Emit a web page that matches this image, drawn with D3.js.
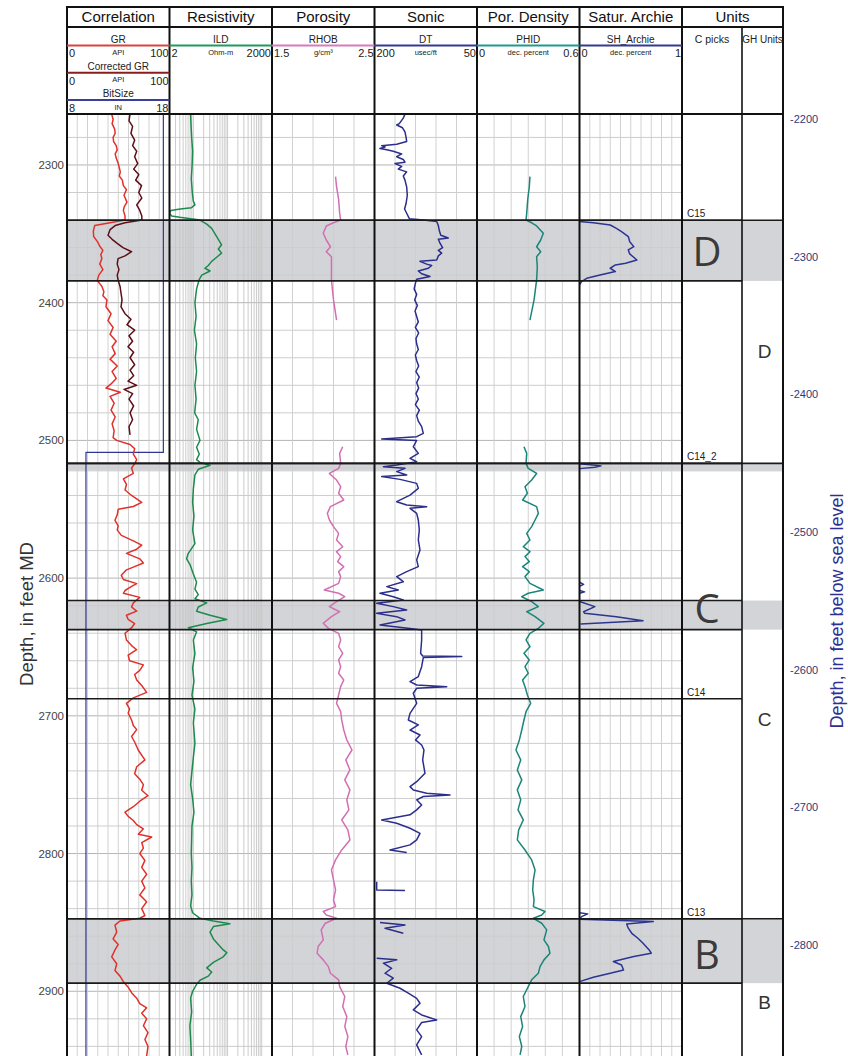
<!DOCTYPE html>
<html>
<head>
<meta charset="utf-8">
<script src="https://cdn.jsdelivr.net/npm/d3@7/dist/d3.min.js"></script>
<style>
  body { margin: 0; background: #fff; }
  svg { display: block; font-family: "Liberation Sans", Arial, sans-serif; }
  .narrow { font-family: "Liberation Sans Narrow", "Arial Narrow", "Liberation Sans", Arial, sans-serif; }
</style>
</head>
<body>
<svg id="chart" width="848" height="1056"></svg>
<script>
// ---- data (depth in feet MD, value in curve units) ----
var trackNames = ["Correlation", "Resistivity", "Porosity", "Sonic", "Por. Density", "Satur. Archie", "Units"];

var grData = [[2263,43.6],[2267,45],[2270,44],[2274,46.5],[2277,47],[2280,45],[2283,45.5],[2286,48],[2289,49],[2292,47],[2295,48],[2299,50],[2302,51],[2305,52],[2308,51],[2311,54],[2315,55],[2318,58],[2322,55.6],[2327,58.5],[2330,56],[2333,55],[2337,56.6],[2340,56.6],[2342,42],[2344,27],[2348,25.7],[2352,26],[2356,30],[2359,32],[2362,35],[2365,33],[2368,34],[2372,32],[2376,35],[2380,31],[2384,29.5],[2388,34],[2392,36],[2395,35],[2398,39],[2403,38],[2408,43],[2413,40],[2418,45],[2423,42],[2428,48],[2432,44],[2437,47],[2441,42],[2446,49],[2450,44],[2455,48],[2459,43],[2462,38],[2465,52],[2468,42],[2473,46],[2478,43],[2483,47],[2488,44],[2493,46],[2498,45],[2500,48.5],[2503,61.5],[2506,66],[2510,64.7],[2514,68],[2517,66],[2520,63],[2524,64.7],[2528,55],[2532,58],[2536,56.6],[2540,63],[2545,72.9],[2548,64.7],[2550,50],[2554,49],[2558,46.8],[2562,50],[2565,49],[2569,53],[2573,64.7],[2576,72.9],[2579,68],[2582,58],[2586,71],[2589,74.5],[2592,64.7],[2594,58],[2598,53],[2601,55],[2604,68],[2606,63],[2609,56.6],[2611,55],[2614,71],[2618,64.7],[2621,63],[2624,68],[2627,58],[2630,59.7],[2633,66],[2636,63],[2640,56.6],[2645,58],[2649,63],[2652,68],[2656,59.7],[2660,61],[2663,74.5],[2667,71],[2670,66],[2674,68],[2678,72.9],[2683,77.7],[2687,64.7],[2691,58],[2695,61],[2698,59.7],[2703,63],[2707,64.7],[2710,68],[2715,63],[2719,66],[2725,69.6],[2732,76],[2737,68],[2742,66],[2746,71],[2750,74.5],[2754,72.9],[2758,79],[2762,71],[2766,64.7],[2770,56.6],[2773,59.7],[2776,64.7],[2779,68],[2782,74.5],[2786,69.6],[2788,82.6],[2792,72.9],[2796,74.5],[2800,71],[2805,76],[2810,72.9],[2815,77.7],[2820,72.9],[2825,76],[2830,71],[2835,77.7],[2840,72.9],[2845,76],[2847,71],[2849,51.7],[2852,46.8],[2857,48.5],[2862,45],[2866,50],[2870,46.8],[2875,43.6],[2880,48.5],[2885,46.8],[2889,51.7],[2893,55],[2897,59.7],[2901,63],[2905,68],[2909,71],[2912,77.7],[2916,72.9],[2920,77.7],[2925,74.5],[2930,79],[2935,76],[2940,79],[2947,77.7]];

var corrGrData = [[2263,61.5],[2268,60.5],[2272,64],[2277,62.4],[2282,66],[2286,64],[2290,68],[2294,66],[2299,69],[2303,65],[2307,70],[2311,67],[2315,72.7],[2320,70],[2324,73],[2329,68],[2333,71],[2337,73],[2340,73],[2342,56.6],[2344,47],[2347,42],[2351,40],[2354,44],[2357,49],[2360,54.6],[2363,63],[2366,56.6],[2368,49.8],[2372,49],[2376,50.7],[2380,49],[2384,50],[2388,51.7],[2393,52.7],[2398,53.7],[2403,52.7],[2408,56.6],[2412,62.4],[2416,58.5],[2420,66],[2424,60.5],[2428,64],[2432,59.5],[2436,65],[2440,61.5],[2445,66],[2449,61.5],[2453,65],[2457,59.5],[2460,68],[2463,55.6],[2466,64],[2470,60.5],[2475,65],[2480,61.5],[2485,64],[2490,60.5],[2496,61.5]];

var bitSizeData = [[2263,17.4],[2508.7,17.4],[2508.7,9.85],[2947,9.85]];

var ildData = [[2263,8.3],[2270,8.5],[2280,8.9],[2290,9.5],[2300,9.2],[2310,8.7],[2320,9.3],[2326,9.9],[2329,11.1],[2331,8.8],[2332,4.1],[2333,2.2],[2335,2.0],[2337,2.3],[2338,4],[2340,15.6],[2343,24.6],[2346,34.4],[2350,43],[2354,53.7],[2358,67],[2361,53.7],[2364,67],[2367,48],[2370,34.4],[2373,27.3],[2375,21.8],[2377,30.7],[2380,17.6],[2383,14.9],[2390,12.4],[2400,11.1],[2410,12],[2420,10.7],[2430,12.4],[2440,11.4],[2450,12.4],[2460,11.1],[2470,12],[2480,10.9],[2485,13.9],[2492,12.4],[2500,15.6],[2505,12.4],[2510,14.9],[2514,12.4],[2516,15.6],[2518,30.7],[2521,13.9],[2525,11.1],[2535,10],[2545,9.5],[2555,10.4],[2565,9.5],[2575,11.1],[2582,7.1],[2586,6.35],[2590,7.9],[2597,10],[2603,12.4],[2608,11.1],[2612,13.9],[2615,11.1],[2618,24.6],[2621,13.9],[2624,12.4],[2627,30.7],[2630,94.7],[2633,24.6],[2636,7.1],[2639,12.4],[2645,10],[2655,11.1],[2665,9.5],[2675,10.4],[2685,9.1],[2695,11.1],[2705,10],[2720,11.1],[2730,10],[2740,9.1],[2750,8.3],[2760,9.5],[2770,10.4],[2780,9.1],[2790,8.9],[2800,8.7],[2810,9.1],[2820,8.7],[2830,9.1],[2838,8.3],[2843,9.5],[2847,15.6],[2849,38.5],[2851,117],[2853,38.5],[2857,30.7],[2862,38.5],[2866,53.7],[2870,75],[2872,94.7],[2875,75],[2879,38.5],[2883,24.6],[2886,34.4],[2889,27.3],[2892,15.6],[2895,12.4],[2900,9.5],[2905,8.3],[2915,8.9],[2925,7.9],[2935,8.3],[2947,8.7]];

var rhobData = [[2308.5,2.12],[2316,2.13],[2325,2.15],[2335,2.16],[2340,2.17],[2342,2.10],[2344.3,2.03],[2349.6,2.0],[2354.5,2.03],[2359.4,2.07],[2363,2.03],[2366.6,2.08],[2374,2.08],[2383.5,2.08],[2398,2.1],[2412.6,2.13],[2460,NaN],[2504.6,2.19],[2509.4,2.16],[2516.7,2.17],[2520.3,2.15],[2524,2.06],[2528.8,2.13],[2533.6,2.17],[2538.4,2.15],[2543.3,2.2],[2548.1,2.07],[2553,2.04],[2557.8,2.06],[2562.6,2.1],[2567.5,2.15],[2572.3,2.13],[2577.2,2.19],[2580.8,2.13],[2584.4,2.17],[2588,2.14],[2591.7,2.2],[2595.3,2.15],[2598.9,2.17],[2603.8,2.15],[2608.6,2.01],[2611,2.15],[2613.5,2.21],[2617.1,2.13],[2620.7,2.06],[2624.4,2.16],[2628,2.08],[2632.8,2.0],[2636.5,2.05],[2640.1,2.15],[2644.9,2.17],[2649.8,2.15],[2654.6,2.19],[2659.4,2.15],[2664.3,2.17],[2669.1,2.15],[2674,2.2],[2678.8,2.17],[2684.9,2.15],[2690.9,2.13],[2697,2.17],[2703,2.18],[2710.3,2.2],[2717.5,2.23],[2724.8,2.28],[2732,2.22],[2739.3,2.26],[2746.5,2.21],[2753.8,2.26],[2761,2.23],[2768.3,2.25],[2775.6,2.18],[2782.8,2.24],[2790.1,2.26],[2797.4,2.18],[2804.6,2.12],[2811.9,2.08],[2819.1,2.1],[2826.4,2.12],[2833.7,2.1],[2838.5,2.12],[2842.1,2.0],[2844.6,2.03],[2847,2.13],[2850.6,2.02],[2855.4,1.98],[2862.7,2.0],[2867.5,1.95],[2872.4,1.94],[2877.2,2.0],[2882.1,2.05],[2886.9,2.07],[2891.7,2.15],[2896.6,2.16],[2903.8,2.21],[2911.1,2.19],[2918.4,2.23],[2925.6,2.21],[2932.9,2.24],[2940.1,2.22],[2946.2,2.24]];

var dtData = [[2263,155.4],[2266,157.9],[2270,163.7],[2271,167.5],[2273,159],[2276,155.4],[2280,153.8],[2283,152.9],[2285,167.5],[2286,189.5],[2287,184.6],[2288,192],[2289,182],[2290,172.5],[2292,160.2],[2294,167.5],[2296,157.9],[2298,155.4],[2299,170],[2301,160.2],[2303,165.2],[2305,152.9],[2308,157.9],[2311,155.4],[2316,152.9],[2322,152],[2328,153.8],[2332,156],[2336,152],[2339,149],[2340,128.6],[2341,109],[2344,106.6],[2348,105],[2351,103],[2353,92],[2354,106.6],[2357,104],[2360,100.3],[2362,106.6],[2364,101.7],[2366,106.6],[2369,109],[2370,133.4],[2372,123.6],[2373,116.3],[2375,121.2],[2377,135.9],[2379,131],[2381,118.8],[2383,138.3],[2386,140.2],[2390,142],[2394,138.3],[2398,141.2],[2402,137.3],[2406,140.7],[2410,138.3],[2414,135.9],[2418,140.2],[2422,135.4],[2426,139.3],[2430,138.3],[2434,135.9],[2438,140.2],[2442,138.3],[2446,135.4],[2450,139.3],[2454,134.4],[2458,138.3],[2462,135.4],[2466,139.3],[2470,135.9],[2474,140.2],[2478,134.4],[2482,138.3],[2486,135.9],[2490,131],[2494.9,128.6],[2497.3,138.3],[2499,189.5],[2500,138.3],[2504.6,143.2],[2509.4,135.9],[2513,148],[2515.5,138.3],[2517.9,167.5],[2519.1,187],[2520.3,155.4],[2522.7,167.5],[2525.1,152.9],[2526.3,189.5],[2528.3,162.7],[2531.2,138.3],[2534.8,135.9],[2539.7,148],[2544.5,167.5],[2546.9,152.9],[2548.1,123.6],[2549.3,148],[2553,138.3],[2557.8,135.9],[2565,134.4],[2572.3,135.9],[2579.6,133.4],[2586.8,138.3],[2591.7,135.9],[2595.3,152.9],[2598.9,167.5],[2602.6,157.9],[2606.2,182],[2608.6,165.2],[2611,192],[2613.5,172.5],[2615.9,157.9],[2618.3,196.8],[2620.7,172.5],[2623.1,152.9],[2625.6,196.8],[2628,167.5],[2630.4,155.4],[2634,192],[2636.5,148],[2637.7,131],[2644.9,131],[2654.6,132.5],[2656.5,129.5],[2657,72.4],[2657.7,128.6],[2664.3,131],[2671.5,135.9],[2675.2,148],[2677.6,138.3],[2678.8,94.3],[2680,138.3],[2683.6,143.2],[2690.9,138.3],[2698.2,148],[2703,150.5],[2706.6,135.9],[2710.3,148],[2713.9,133.4],[2717.5,140],[2721.2,131],[2724.8,127.6],[2732,129.5],[2741.7,126.1],[2747.8,138.3],[2751.4,148],[2753.8,143.2],[2756.2,123.6],[2757.4,89.5],[2758.6,128.6],[2761,138.3],[2764.7,131],[2768.3,138.3],[2771.9,148],[2775.6,189.5],[2778,167.5],[2781.6,148],[2785.3,133.4],[2790.1,138.3],[2793.7,148],[2797.4,177.3],[2799.3,152.9],[2805,NaN],[2820.4,196.8],[2826.4,196.8],[2826.9,155.4],[2835,NaN],[2850.1,192],[2851.8,155.4],[2854.2,184.6],[2857.9,157.9],[2865,NaN],[2876,196.8],[2877.2,167.5],[2879.6,187],[2883.3,174.9],[2886.9,184.6],[2890.5,172.5],[2894.2,182],[2897.8,162.7],[2901.4,150.5],[2905.1,138.3],[2908.7,133.4],[2913.5,143.2],[2917.2,131],[2920.8,109],[2922.7,131],[2928,138.3],[2932.9,131],[2938.9,138.3],[2946.2,131]];

var phidData = [[2308.5,0.31],[2316,0.306],[2325,0.297],[2335,0.291],[2340,0.287],[2342,0.32],[2344.3,0.349],[2349.6,0.388],[2354.5,0.373],[2359.4,0.349],[2363,0.373],[2366.6,0.349],[2374,0.353],[2383.5,0.349],[2398,0.334],[2412.6,0.31],[2460,NaN],[2504.6,0.275],[2509.4,0.291],[2516.7,0.287],[2520.3,0.30],[2524,0.349],[2528.8,0.32],[2533.6,0.281],[2538.4,0.295],[2543.3,0.267],[2548.1,0.349],[2553,0.359],[2557.8,0.34],[2562.6,0.32],[2567.5,0.291],[2572.3,0.31],[2577.2,0.271],[2580.8,0.31],[2584.4,0.281],[2588,0.306],[2591.7,0.267],[2595.3,0.306],[2598.9,0.281],[2603.8,0.31],[2608.6,0.388],[2611,0.30],[2613.5,0.262],[2617.1,0.32],[2620.7,0.359],[2624.4,0.291],[2628,0.34],[2632.8,0.392],[2636.5,0.359],[2640.1,0.31],[2644.9,0.287],[2649.8,0.31],[2654.6,0.275],[2659.4,0.306],[2664.3,0.281],[2669.1,0.30],[2674,0.267],[2678.8,0.281],[2684.9,0.295],[2690.9,0.314],[2697,0.287],[2703,0.275],[2710.3,0.262],[2717.5,0.248],[2724.8,0.228],[2732,0.256],[2739.3,0.236],[2746.5,0.262],[2753.8,0.236],[2761,0.256],[2768.3,0.24],[2775.6,0.271],[2782.8,0.244],[2790.1,0.236],[2797.4,0.281],[2804.6,0.32],[2811.9,0.34],[2819.1,0.33],[2826.4,0.326],[2833.7,0.334],[2838.5,0.33],[2842.1,0.398],[2844.6,0.379],[2847,0.33],[2850.6,0.379],[2855.4,0.408],[2862.7,0.392],[2867.5,0.418],[2872.4,0.427],[2877.2,0.392],[2882.1,0.369],[2886.9,0.359],[2891.7,0.32],[2896.6,0.30],[2903.8,0.271],[2911.1,0.281],[2918.4,0.256],[2925.6,0.267],[2932.9,0.248],[2940.1,0.262],[2946.2,0.252]];

var shData = [[2341.1,0],[2341.9,0.135],[2343.6,0.3],[2346,0.36],[2348.4,0.41],[2352,0.476],[2355.7,0.49],[2359.3,0.53],[2361.7,0.476],[2364.6,0.49],[2369,0.56],[2371.4,0.45],[2372.6,0.35],[2375,0.3],[2377.4,0.35],[2379.9,0.2],[2382.3,0.07],[2384.7,0.02],[2387.1,0],[2400,NaN],[2517,0],[2518.5,0.21],[2519.5,0.15],[2520.5,0],[2560,NaN],[2603,0],[2604.5,0.04],[2606,0],[2608,NaN],[2609,0],[2610,0.05],[2611,0],[2614,NaN],[2617,0],[2620.7,0.15],[2624.4,0.04],[2625.6,0.05],[2628,0.36],[2630.9,0.62],[2633.3,0.01],[2640,NaN],[2842.9,0],[2843.8,0.08],[2845.8,0.02],[2847.7,0],[2849.4,0.72],[2851.1,0.46],[2854.2,0.476],[2857.9,0.51],[2861.5,0.57],[2865.1,0.62],[2870,0.68],[2872.4,0.70],[2874.8,0.53],[2878.4,0.33],[2880.9,0.41],[2884.5,0.43],[2886.9,0.3],[2889.8,0.135],[2893,0]];

// zones, picks and units
var zoneNames = ["D", "", "C", "B"];
var zoneTop = [2340.2, 2516.7, 2616.3, 2847.3];
var zoneBase = [2384.2, 2522.5, 2637.4, 2894.1];
var zoneLabelDepth = [2363, 2519, 2622.2, 2873.4];
var pickNames = ["C15", "C14_2", "C14", "C13"];
var pickDepths = [2340.2, 2516.7, 2687.6, 2847.3];
var ghNames = ["D", "C", "B"];
var ghTops = [2340.2, 2516.7, 2847.3];
var ghLabelDepth = [2434.9, 2702.3, 2907.6];

var mdTicks = [2300, 2400, 2500, 2600, 2700, 2800, 2900];
var ssTicks = [-2200, -2300, -2400, -2500, -2600, -2700, -2800];
var kbElev = 66.6;

// ---- layout ----
var svg = d3.select("#chart");
var topY = 7, titleY = 27, headY = 114, bottomY = 1056;
var left = 67, tw = 102.5, unitsRight = 783, ghX = 742;
function tx(i) { return left + i * tw; }

var y = d3.scaleLinear().domain([2263, 2947]).range([headY, bottomY]);
var ySS = d3.scaleLinear().domain([kbElev - 2263, kbElev - 2947]).range([headY, bottomY]);

var xGR = d3.scaleLinear().domain([0, 100]).range([tx(0), tx(1)]);
var xBit = d3.scaleLinear().domain([8, 18]).range([tx(0), tx(1)]);
var xILD = d3.scaleLog().domain([2, 2000]).range([tx(1), tx(2)]);
var xRHOB = d3.scaleLinear().domain([1.5, 2.5]).range([tx(2), tx(3)]);
var xDT = d3.scaleLinear().domain([200, 50]).range([tx(3), tx(4)]);
var xPHID = d3.scaleLinear().domain([0, 0.6]).range([tx(4), tx(5)]);
var xSH = d3.scaleLinear().domain([0, 1]).range([tx(5), tx(6)]);

// zone shading
svg.append("g").selectAll("rect").data(zoneTop).enter().append("rect")
  .attr("x", left).attr("width", unitsRight - left)
  .attr("y", function(d) { return y(d); })
  .attr("height", function(d, i) { return y(zoneBase[i]) - y(d); })
  .attr("fill", "#d3d4d7");

// grid
var grid = svg.append("g").attr("class", "grid");
var hLines = d3.range(2280, 2947, 20);
grid.selectAll("line.h").data(hLines).enter().append("line")
  .attr("x1", left).attr("x2", tx(6))
  .attr("y1", function(d) { return y(d); }).attr("y2", function(d) { return y(d); })
  .attr("stroke", function(d) { return d % 100 === 0 ? "#b4b4b4" : "#cdcdcd"; })
  .attr("stroke-width", 1);

function gridV(scale, values, color) {
  grid.append("g").selectAll("line").data(values).enter().append("line")
    .attr("x1", function(d) { return scale(d); }).attr("x2", function(d) { return scale(d); })
    .attr("y1", headY).attr("y2", bottomY)
    .attr("stroke", color || "#cdcdcd").attr("stroke-width", 0.9);
}
gridV(xGR, d3.range(10, 100, 10));
var logVals = [];
[1, 10, 100, 1000].forEach(function(dec) {
  for (var k = 1; k <= 9; k++) { var v = k * dec; if (v > 2 && v < 2000) logVals.push(v); }
});
gridV(xILD, logVals, "#c6c6c6");
gridV(xRHOB, [1.7, 1.9, 2.1, 2.3]);
gridV(xDT, [170, 140, 110, 80]);
gridV(xPHID, [0.1, 0.2, 0.3, 0.4, 0.5]);
gridV(xSH, d3.range(1, 10).map(function(d) { return d / 10; }));

// clip each track so curves stay inside
var defs = svg.append("defs");
for (var i = 0; i < 6; i++) {
  defs.append("clipPath").attr("id", "clip" + i).append("rect")
    .attr("x", tx(i)).attr("y", headY).attr("width", tw).attr("height", bottomY - headY);
}

function drawCurve(data, xs, color, clip, width) {
  var line = d3.line()
    .defined(function(d) { return !isNaN(d[1]); })
    .x(function(d) { return xs(d[1]); })
    .y(function(d) { return y(d[0]); });
  svg.append("path").datum(data)
    .attr("d", line)
    .attr("fill", "none")
    .attr("stroke", color)
    .attr("stroke-width", width || 1.5)
    .attr("stroke-linejoin", "round")
    .attr("clip-path", "url(#clip" + clip + ")");
}

drawCurve(bitSizeData, xBit, "#2e3592", 0, 1.2);
drawCurve(corrGrData, xGR, "#5c0f16", 0);
drawCurve(grData, xGR, "#e0312b", 0);
drawCurve(ildData, xILD, "#1d8a4e", 1);
drawCurve(rhobData, xRHOB, "#d26fb3", 2);
drawCurve(dtData, xDT, "#2b2e8c", 3);
drawCurve(phidData, xPHID, "#1a8579", 4);
drawCurve(shData, xSH, "#2c3592", 5);

// zone and pick lines
var lines = svg.append("g").attr("stroke", "#1a1a1a").attr("stroke-width", 1.6);
zoneTop.forEach(function(d, i) {
  lines.append("line").attr("x1", left).attr("x2", ghX).attr("y1", y(d)).attr("y2", y(d));
  if (zoneBase[i] - d > 10) {
    lines.append("line").attr("x1", left).attr("x2", ghX).attr("y1", y(zoneBase[i])).attr("y2", y(zoneBase[i]));
  }
});
pickDepths.forEach(function(d) {
  lines.append("line").attr("x1", left).attr("x2", ghX).attr("y1", y(d)).attr("y2", y(d));
});
ghTops.forEach(function(d) {
  lines.append("line").attr("x1", ghX).attr("x2", unitsRight).attr("y1", y(d)).attr("y2", y(d));
});

// frame
var frame = svg.append("g").attr("stroke", "#111").attr("stroke-width", 2);
for (var j = 0; j <= 6; j++) {
  frame.append("line").attr("x1", tx(j)).attr("x2", tx(j)).attr("y1", topY).attr("y2", bottomY);
}
frame.append("line").attr("x1", unitsRight).attr("x2", unitsRight).attr("y1", topY).attr("y2", bottomY);
frame.append("line").attr("x1", ghX).attr("x2", ghX).attr("y1", titleY).attr("y2", bottomY).attr("stroke-width", 1.6);
[topY, titleY, headY].forEach(function(h) {
  frame.append("line").attr("x1", left - 1).attr("x2", unitsRight + 1).attr("y1", h).attr("y2", h);
});

// header titles
svg.append("g").selectAll("text").data(trackNames).enter().append("text")
  .attr("class", "narrow")
  .attr("x", function(d, i) { return i < 6 ? tx(i) + tw / 2 : (tx(6) + unitsRight) / 2; })
  .attr("y", 17).attr("dy", "0.35em")
  .attr("text-anchor", "middle").attr("font-size", 15).attr("fill", "#111")
  .text(function(d) { return d; });

// curve legends in the header
function legend(track, row, name, color, lo, unit, hi) {
  var g = svg.append("g").attr("class", "narrow").attr("fill", "#222");
  var y0 = 39 + row * 27.3, x0 = tx(track), x1 = tx(track + 1);
  g.append("text").attr("x", (x0 + x1) / 2).attr("y", y0).attr("dy", "0.35em")
    .attr("text-anchor", "middle").attr("font-size", 10).text(name);
  g.append("line").attr("x1", x0).attr("x2", x1).attr("y1", y0 + 6.5).attr("y2", y0 + 6.5)
    .attr("stroke", color).attr("stroke-width", 2);
  g.append("text").attr("x", x0 + 2).attr("y", y0 + 14.5).attr("dy", "0.35em")
    .attr("font-size", 11).text(lo);
  g.append("text").attr("x", (x0 + x1) / 2).attr("y", y0 + 13.5).attr("dy", "0.35em")
    .attr("text-anchor", "middle").attr("font-size", 7.5).text(unit);
  g.append("text").attr("x", x1 - 1).attr("y", y0 + 14.5).attr("dy", "0.35em")
    .attr("text-anchor", "end").attr("font-size", 11).text(hi);
}
legend(0, 0, "GR", "#d8443c", "0", "API", "100");
legend(0, 1, "Corrected GR", "#8a1d20", "0", "API", "100");
legend(0, 2, "BitSize", "#3a3f98", "8", "IN", "18");
legend(1, 0, "ILD", "#1f9a5c", "2", "Ohm-m", "2000");
legend(2, 0, "RHOB", "#d77bbb", "1.5", "g/cm\u00b3", "2.5");
legend(3, 0, "DT", "#343a94", "200", "usec/ft", "50");
legend(4, 0, "PHID", "#1e9a8c", "0", "dec. percent", "0.6");
legend(5, 0, "SH_Archie", "#343a94", "0", "dec. percent", "1");

svg.append("text").attr("class", "narrow").attr("x", 712).attr("y", 39).attr("dy", "0.35em")
  .attr("text-anchor", "middle").attr("font-size", 10.5).attr("fill", "#222").text("C picks");
svg.append("text").attr("class", "narrow").attr("x", 762.5).attr("y", 39).attr("dy", "0.35em")
  .attr("text-anchor", "middle").attr("font-size", 10).attr("fill", "#222").text("GH Units");

// picks labels
svg.append("g").selectAll("text").data(pickNames).enter().append("text")
  .attr("x", 687).attr("y", function(d, i) { return y(pickDepths[i]) - 3; })
  .attr("font-size", 10).attr("fill", "#222")
  .text(function(d) { return d; });

// big zone letters
svg.append("g").selectAll("text").data(zoneNames).enter().append("text")
  .attr("x", 707).attr("y", function(d, i) { return y(zoneLabelDepth[i]); }).attr("dy", "0.36em")
  .attr("text-anchor", "middle")
  .attr("font-family", "'Open Sans', 'Noto Sans', sans-serif").attr("font-size", 40).attr("fill", "#3a3a3a")
  .text(function(d) { return d; });

// GH unit letters
svg.append("g").selectAll("text").data(ghNames).enter().append("text")
  .attr("x", 764.5).attr("y", function(d, i) { return y(ghLabelDepth[i]); }).attr("dy", "0.36em")
  .attr("text-anchor", "middle").attr("font-size", 19).attr("fill", "#333")
  .text(function(d) { return d; });

// MD axis on the left
svg.append("g").selectAll("text").data(mdTicks).enter().append("text")
  .attr("x", 64).attr("y", function(d) { return y(d); }).attr("dy", "0.35em")
  .attr("text-anchor", "end").attr("font-size", 11.5).attr("fill", "#444")
  .text(function(d) { return d; });
svg.append("text").attr("transform", "translate(33,614) rotate(-90)")
  .attr("text-anchor", "middle").attr("font-size", 18.5).attr("fill", "#333")
  .text("Depth, in feet MD");

// subsea axis on the right
svg.append("g").selectAll("text").data(ssTicks).enter().append("text")
  .attr("x", 790).attr("y", function(d) { return ySS(d); }).attr("dy", "0.35em")
  .attr("font-size", 11).attr("fill", "#2e3a78")
  .text(function(d) { return d; });
svg.append("text").attr("transform", "translate(843,611) rotate(-90)")
  .attr("text-anchor", "middle").attr("font-size", 18).attr("fill", "#2e3192")
  .text("Depth, in feet below sea level");
</script>
</body>
</html>
